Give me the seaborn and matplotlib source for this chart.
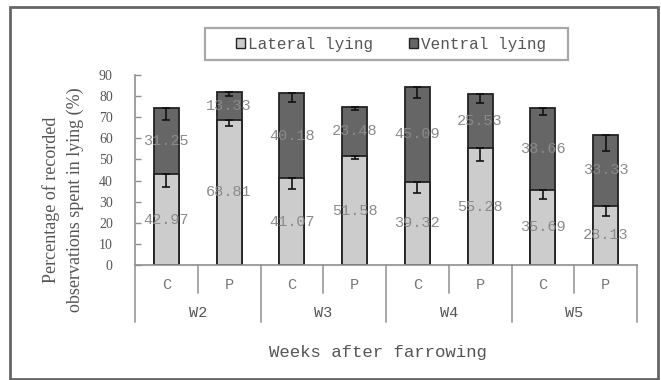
import matplotlib
matplotlib.use("Agg")
import matplotlib.pyplot as plt
from matplotlib.patches import Rectangle, Patch
from matplotlib.lines import Line2D
import seaborn as sns
import pandas as pd
import numpy as np

# Lying behaviour per week and treatment (C = control, P = pen)
weeks = ["W2", "W3", "W4", "W5"]
treatments = ["C", "P"]
lateral = [42.97, 68.81, 41.07, 51.58, 39.32, 55.28, 35.69, 28.13]
ventral = [31.25, 13.33, 40.18, 23.48, 45.09, 25.53, 38.66, 33.33]
lateral_err = [6.0, 3.0, 5.0, 1.5, 5.0, 6.0, 4.5, 5.0]
ventral_err = [5.5, 2.3, 4.0, 1.5, 5.5, 4.0, 3.5, 7.5]
yticks = [0, 10, 20, 30, 40, 50, 60, 70, 80, 90]

groups = [f"{w} {t}" for w in weeks for t in treatments]
df = pd.DataFrame({
    "group": groups,
    "lateral": lateral,
    "ventral": ventral,
})
df["total"] = df["lateral"] + df["ventral"]

sns.set_theme(style="white")
mono = "Liberation Mono"
serif = "Liberation Serif"

fig = plt.figure(figsize=(6.61, 3.80), dpi=100)
ax = fig.add_axes([135 / 661, 1 - 265 / 380, 502 / 661, 190 / 380])

light = "#cccccc"
dark = "#666666"
edge = "#222222"

# Stacked bars: total (ventral on top) first, lateral drawn over it
sns.barplot(data=df, x="group", y="total", order=groups, color=dark,
            saturation=1, width=0.4, edgecolor=edge, linewidth=1.3, ax=ax,
            errorbar=None)
sns.barplot(data=df, x="group", y="lateral", order=groups, color=light,
            saturation=1, width=0.4, edgecolor=edge, linewidth=1.3, ax=ax,
            errorbar=None)

xpos = np.arange(len(groups))
# Minus-only error bars
ax.errorbar(xpos, df["lateral"], yerr=[lateral_err, [0] * len(groups)],
            fmt="none", ecolor="#111111", elinewidth=1.2, capsize=3,
            capthick=1.2, zorder=1.5)
ax.errorbar(xpos, df["total"], yerr=[ventral_err, [0] * len(groups)],
            fmt="none", ecolor="#111111", elinewidth=1.2, capsize=3,
            capthick=1.2, zorder=5)

# Value labels in the middle of each segment
for i in range(len(groups)):
    ax.text(xpos[i], lateral[i] / 2, f"{lateral[i]:.2f}", ha="center",
            va="center", fontsize=11, family=mono, color="#8a8a8a", zorder=6)
    ax.text(xpos[i], lateral[i] + ventral[i] / 2, f"{ventral[i]:.2f}",
            ha="center", va="center", fontsize=11, family=mono,
            color="#8a8a8a", zorder=6)

ax.set_xlim(-0.5, len(groups) - 0.5)
ax.set_ylim(0, 90)
ax.set_yticks(yticks)
ax.set_yticklabels([str(v) for v in yticks], family=serif, fontsize=10,
                   color="#555555")
ax.tick_params(axis="y", direction="in", length=4, width=1, color="#909090",
               left=True, pad=16)
ax.set_xticks([])
ax.set_xlabel("")
ax.set_ylabel("")
for side in ["top", "right"]:
    ax.spines[side].set_visible(False)
for side in ["left", "bottom"]:
    ax.spines[side].set_color("#909090")
    ax.spines[side].set_linewidth(1.2)

# Two-level category axis
trans = ax.get_xaxis_transform()
for b in np.arange(-0.5, len(groups), 1.0):
    long_line = (int(round(b + 0.5)) % 2 == 0)
    y_end = -0.30 if long_line else -0.147
    ax.add_line(Line2D([b, b], [0, y_end], transform=trans, color="#a0a0a0",
                       lw=1.3, clip_on=False))
for i, g in enumerate(groups):
    ax.text(i, -0.105, g.split()[1], transform=trans, ha="center",
            va="center", fontsize=11, family=mono, color="#777777")
for j, w in enumerate(weeks):
    ax.text(2 * j + 0.5, -0.253, w, transform=trans, ha="center",
            va="center", fontsize=11, family=mono, color="#555555")

fig.text(378 / 661, 1 - 352 / 380, "Weeks after farrowing", ha="center",
         va="center", fontsize=12.5, family=mono, color="#555555")
fig.text(63 / 661, 1 - 200 / 380,
         "Percentage of recorded\nobservations spent in lying (%)",
         rotation=90, ha="center", va="center", multialignment="center",
         fontsize=13, family=serif, color="#555555", linespacing=1.45)

# Legend with its own frame
handles = [Patch(facecolor=light, edgecolor=edge, lw=1.0, label="Lateral lying"),
           Patch(facecolor=dark, edgecolor=edge, lw=1.0, label="Ventral lying")]
fig.patches.append(Rectangle((205 / 661, 1 - 60 / 380), 363 / 661, 32 / 380,
                             transform=fig.transFigure, fill=False,
                             edgecolor="#a8a8a8", lw=1.6))
fig.legend(handles=handles, loc="center", bbox_to_anchor=(391 / 661, 1 - 44 / 380),
           ncol=2, frameon=False, prop={"family": mono, "size": 11.5},
           handlelength=0.6, handleheight=0.6, handletextpad=0.2,
           columnspacing=2.2, labelcolor="#555555")

# Outer frame around the whole chart
fig.patches.append(Rectangle((10 / 661, 1 - 379 / 380), 648 / 661, 372 / 380,
                             transform=fig.transFigure, fill=False,
                             edgecolor="#666666", lw=2))

fig.savefig("out.png", dpi=100)
